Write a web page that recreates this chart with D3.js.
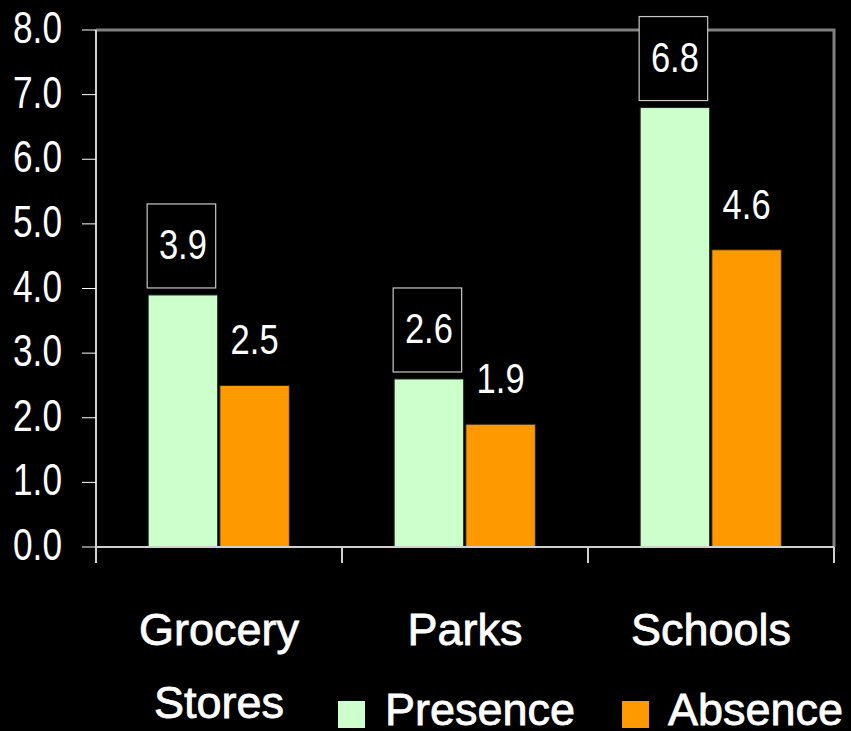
<!DOCTYPE html>
<html>
<head>
<meta charset="utf-8">
<script src="https://cdn.jsdelivr.net/npm/d3@7"></script>
<style>
  html, body { margin: 0; padding: 0; background: #000; }
  svg { display: block; }
</style>
</head>
<body>
<div id="chart"></div>
<script>
// chart data
const categories = [['Grocery', 'Stores'], ['Parks'], ['Schools']];
const seriesNames = ['Presence', 'Absence'];
const presence = [3.9, 2.6, 6.8];
const absence = [2.5, 1.9, 4.6];
const yTicks = [0, 1, 2, 3, 4, 5, 6, 7, 8];

const colors = { Presence: '#ccffcc', Absence: '#ff9900' };

const width = 851;
const height = 731;
const plot = { left: 96, right: 834, top: 30, bottom: 547 };

const svg = d3.select('#chart').append('svg')
  .attr('width', width)
  .attr('height', height)
  .style('background', '#000');

const y = d3.scaleLinear().domain([0, 8]).range([plot.bottom, plot.top]);

const x0 = d3.scaleBand()
  .domain(d3.range(categories.length))
  .range([plot.left, plot.right])
  .padding(0);

const groupW = x0.bandwidth();
const x1 = d3.scaleBand()
  .domain(seriesNames)
  .range([groupW * 0.212, groupW * 0.786])
  .paddingInner(0.03);

// plot frame (top/right grey border)
svg.append('path')
  .attr('d', `M${plot.left},${plot.top} H${plot.right} V${plot.bottom}`)
  .attr('fill', 'none')
  .attr('stroke', '#808080')
  .attr('stroke-width', 3);

// bars
const rows = categories.map((c, i) => ({
  i,
  values: [
    { key: 'Presence', v: presence[i] },
    { key: 'Absence', v: absence[i] },
  ],
}));

const groups = svg.selectAll('g.group')
  .data(rows)
  .enter().append('g')
  .attr('class', 'group')
  .attr('transform', (d) => `translate(${x0(d.i)},0)`);

groups.selectAll('rect.bar')
  .data((d) => d.values)
  .enter().append('rect')
  .attr('class', 'bar')
  .attr('x', (d) => x1(d.key))
  .attr('y', (d) => y(d.v))
  .attr('width', x1.bandwidth())
  .attr('height', (d) => y(0) - y(d.v))
  .attr('fill', (d) => colors[d.key])
  .attr('stroke', '#222')
  .attr('stroke-width', 1);

// value labels (thin, condensed look)
const fmt = d3.format('.1f');
const valueFont = "'Liberation Sans', Arial, sans-serif";

groups.selectAll('rect.lbl-box')
  .data((d) => d.values.filter((v) => v.key === 'Presence'))
  .enter().append('rect')
  .attr('class', 'lbl-box')
  .attr('x', (d) => x1(d.key) - 1)
  .attr('y', (d) => y(d.v) - 91)
  .attr('width', x1.bandwidth() - 1)
  .attr('height', 84)
  .attr('fill', '#000')
  .attr('stroke', '#c8c8c8')
  .attr('stroke-width', 1.2);

groups.selectAll('text.val')
  .data((d) => d.values)
  .enter().append('text')
  .attr('class', 'val')
  .attr('x', (d) => x1(d.key) + x1.bandwidth() / 2)
  .attr('y', (d) => y(d.v) - (d.key === 'Presence' ? 36 : 31))
  .attr('text-anchor', 'middle')
  .attr('fill', '#fff')
  .attr('textLength', 48)
  .attr('lengthAdjust', 'spacingAndGlyphs')
  .style('font-family', valueFont)
  .style('font-weight', 300)
  .style('font-size', '43px')
  .text((d) => fmt(d.v));

// y axis
const yAxis = svg.append('g').attr('class', 'y-axis');
yAxis.append('line')
  .attr('x1', plot.left).attr('x2', plot.left)
  .attr('y1', plot.top).attr('y2', plot.bottom + 16)
  .attr('stroke', '#d0d0d0')
  .attr('stroke-width', 2);
yAxis.selectAll('line.tick')
  .data(yTicks)
  .enter().append('line')
  .attr('class', 'tick')
  .attr('x1', plot.left - 14).attr('x2', plot.left)
  .attr('y1', (d) => y(d)).attr('y2', (d) => y(d))
  .attr('stroke', '#fff')
  .attr('stroke-width', 1);
yAxis.selectAll('text')
  .data(yTicks)
  .enter().append('text')
  .attr('x', 62)
  .attr('y', (d) => y(d) + 13)
  .attr('text-anchor', 'end')
  .attr('fill', '#fff')
  .attr('textLength', 49)
  .attr('lengthAdjust', 'spacingAndGlyphs')
  .style('font-family', valueFont)
  .style('font-size', '45px')
  .text((d) => fmt(d));

// x axis
const xAxis = svg.append('g').attr('class', 'x-axis');
xAxis.append('line')
  .attr('x1', plot.left).attr('x2', plot.right)
  .attr('y1', plot.bottom).attr('y2', plot.bottom)
  .attr('stroke', '#d0d0d0')
  .attr('stroke-width', 2);
const bounds = d3.range(categories.length + 1).map((i) => (i < categories.length ? x0(i) : plot.right));
xAxis.selectAll('line.tick')
  .data(bounds)
  .enter().append('line')
  .attr('class', 'tick')
  .attr('x1', (d) => d).attr('x2', (d) => d)
  .attr('y1', plot.bottom).attr('y2', plot.bottom + 16)
  .attr('stroke', '#d0d0d0')
  .attr('stroke-width', 2);

const labelFont = "'Liberation Sans', Arial, sans-serif";
const catText = xAxis.selectAll('text.cat')
  .data(categories)
  .enter().append('text')
  .attr('class', 'cat')
  .attr('x', (d, i) => x0(i) + groupW / 2)
  .attr('y', 645)
  .attr('text-anchor', 'middle')
  .attr('fill', '#fff')
  .attr('stroke', '#fff')
  .attr('stroke-width', 0.8)
  .style('font-family', labelFont)
  .style('font-size', '45px');
catText.selectAll('tspan')
  .data((d) => d)
  .enter().append('tspan')
  .attr('x', function () { return d3.select(this.parentNode).attr('x'); })
  .attr('dy', (d, i) => (i === 0 ? 0 : 73))
  .text((d) => d);

// legend
const legendItems = [
  { key: 'Presence', sx: 338, tx: 385 },
  { key: 'Absence', sx: 622, tx: 668 },
];
const legend = svg.append('g').attr('class', 'legend');
legend.selectAll('rect')
  .data(legendItems)
  .enter().append('rect')
  .attr('x', (d) => d.sx)
  .attr('y', 701)
  .attr('width', 27)
  .attr('height', 27)
  .attr('fill', (d) => colors[d.key]);
legend.selectAll('text')
  .data(legendItems)
  .enter().append('text')
  .attr('x', (d) => d.tx)
  .attr('y', 725)
  .attr('fill', '#fff')
  .attr('stroke', '#fff')
  .attr('stroke-width', 0.8)
  .style('font-family', labelFont)
  .style('font-size', '45px')
  .text((d) => d.key);
</script>
</body>
</html>
